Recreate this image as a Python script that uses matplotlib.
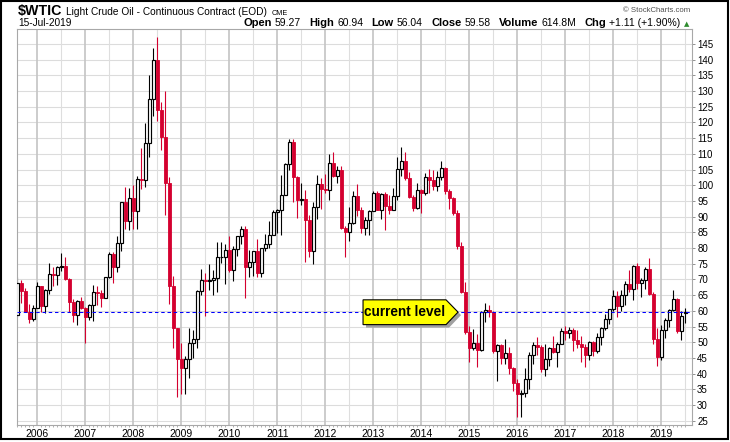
import matplotlib
matplotlib.use('Agg')
import matplotlib.pyplot as plt
import numpy as np
import pandas as pd
from matplotlib.patches import Rectangle, Polygon

plt.rcParams['font.family'] = ['Liberation Sans', 'DejaVu Sans']

# ---------------- data (monthly, Aug 2005 .. Jul 2019) ----------------
start_month = '2005-08'
opens = [
    58.60, 68.94, 66.24, 59.76, 57.32,
    61.04, 67.92, 61.41, 66.63, 71.88, 71.29, 73.93, 74.40, 70.26, 62.91, 58.73, 63.13,
    61.05, 58.14, 61.79, 65.87, 65.71, 64.01, 70.68, 78.21, 74.04, 81.66, 94.53, 88.71,
    95.98, 91.75, 101.84, 101.58, 113.46, 127.35, 140.00, 124.08, 115.46, 100.64, 67.81, 54.43,
    44.60, 41.68, 44.76, 49.66, 51.12, 66.31, 69.89, 69.45, 69.96, 70.61, 77.00, 77.28,
    79.36, 72.89, 79.66, 83.76, 86.15, 73.97, 75.63, 78.95, 71.92, 79.97, 81.43, 84.11,
    91.38, 92.19, 96.97, 106.72, 113.93, 102.70, 95.42, 95.70, 88.81, 79.20, 93.19, 100.36,
    98.83, 98.48, 107.07, 103.02, 104.87, 86.53, 84.96, 88.06, 96.47, 92.19, 86.24, 88.91,
    91.82, 97.49, 92.05, 97.23, 93.46, 91.97, 96.56, 105.03, 107.65, 102.33, 96.38, 92.72,
    98.42, 97.49, 102.59, 101.58, 99.74, 102.71, 105.37, 98.17, 95.96, 91.16, 80.54, 66.15,
    53.27, 48.24, 49.76, 47.60, 59.63, 60.30, 59.47, 47.12, 49.20, 45.09, 46.59, 41.65,
    37.04, 33.62, 33.75, 38.34, 45.92, 49.10, 48.33, 41.60, 44.70, 48.24, 46.86, 49.44,
    53.72, 52.81, 54.01, 50.60, 49.33, 48.32, 46.04, 50.17, 47.23, 51.67, 54.38, 57.40,
    60.42, 64.73, 61.64, 64.94, 68.57, 67.04, 74.15, 68.76, 69.80, 73.25, 65.31, 50.93,
    45.41, 53.79, 57.22, 60.14, 63.91, 53.50, 59.27,
]
highs = [
    70.85, 69.81, 67.30, 62.10, 61.94,
    69.20, 68.00, 67.10, 75.35, 74.00, 74.20, 78.40, 77.05, 70.40, 63.80, 63.60, 64.40,
    61.10, 62.30, 68.10, 67.90, 66.60, 70.70, 78.80, 78.80, 83.90, 94.70, 99.30, 99.00,
    100.10, 103.05, 111.80, 119.93, 135.09, 143.67, 147.27, 126.40, 130.00, 102.60, 71.00, 54.50,
    49.80, 45.50, 54.66, 54.00, 66.65, 73.38, 72.00, 75.00, 72.91, 82.00, 81.99, 81.40,
    83.95, 80.51, 83.90, 87.15, 87.15, 79.37, 79.15, 82.97, 80.07, 84.41, 88.63, 92.06,
    92.58, 103.41, 106.95, 114.83, 114.60, 102.90, 100.62, 98.55, 90.52, 94.65, 103.37, 102.44,
    103.74, 109.95, 110.55, 106.28, 106.00, 86.90, 92.94, 98.29, 100.42, 93.05, 89.90, 91.97,
    98.24, 98.24, 97.65, 97.80, 96.99, 99.08, 108.93, 112.24, 110.74, 104.32, 96.90, 100.75,
    98.94, 104.00, 105.20, 104.99, 104.48, 107.68, 105.90, 98.72, 96.40, 92.00, 82.05, 69.28,
    55.05, 54.24, 52.48, 59.90, 62.58, 61.92, 60.03, 49.50, 49.50, 50.92, 48.36, 42.00,
    38.39, 34.69, 41.90, 46.78, 50.21, 51.67, 49.02, 49.36, 48.38, 51.93, 49.95, 54.51,
    55.24, 54.94, 54.55, 53.76, 52.00, 49.31, 50.43, 50.43, 52.86, 54.91, 59.05, 60.51,
    66.66, 66.30, 66.55, 69.56, 72.90, 74.46, 75.27, 70.41, 73.85, 76.90, 66.10, 54.55,
    55.55, 57.81, 60.73, 66.60, 64.06, 59.93, 60.94,
]
lows = [
    58.00, 62.50, 59.50, 56.10, 56.70,
    60.80, 59.50, 59.30, 65.30, 68.00, 68.30, 72.60, 69.70, 59.50, 56.55, 55.35, 60.50,
    49.90, 57.20, 56.60, 61.90, 61.20, 64.00, 70.30, 69.00, 72.40, 78.90, 86.00, 85.80,
    86.10, 86.10, 98.65, 99.50, 109.00, 122.00, 120.42, 111.30, 90.50, 62.30, 48.30, 32.40,
    33.55, 33.55, 38.50, 45.00, 48.30, 64.90, 58.30, 66.60, 65.10, 65.90, 75.20, 68.60,
    72.40, 69.50, 77.40, 81.30, 64.20, 70.80, 71.10, 70.80, 70.80, 79.10, 80.00, 84.00,
    84.90, 84.10, 96.80, 105.00, 94.60, 89.60, 93.70, 75.70, 77.10, 74.95, 89.20, 92.50,
    97.40, 95.40, 102.70, 100.70, 86.10, 77.30, 82.10, 87.50, 90.30, 84.90, 84.10, 84.10,
    91.80, 92.00, 89.30, 85.60, 91.00, 92.00, 95.40, 103.00, 101.60, 95.80, 91.80, 92.30,
    91.20, 96.90, 97.40, 98.40, 98.20, 101.60, 97.20, 92.50, 90.40, 79.80, 65.70, 52.70,
    43.60, 47.40, 42.00, 47.10, 56.50, 57.90, 46.70, 37.75, 43.20, 43.10, 39.90, 34.50,
    26.20, 26.10, 32.50, 35.20, 43.00, 45.80, 40.60, 39.20, 42.50, 46.40, 42.20, 49.30,
    50.70, 51.20, 47.10, 48.20, 43.80, 42.05, 44.40, 45.60, 46.50, 49.10, 53.90, 55.80,
    59.90, 58.10, 59.90, 61.90, 66.10, 63.60, 67.00, 64.40, 67.00, 64.90, 49.40, 42.40,
    44.35, 51.20, 55.00, 59.90, 53.00, 50.60, 56.04,
]
closes = [
    68.94, 66.24, 59.76, 57.32, 61.04,
    67.92, 61.41, 66.63, 71.88, 71.29, 73.93, 74.40, 70.26, 62.91, 58.73, 63.13, 61.05,
    58.14, 61.79, 65.87, 65.71, 64.01, 70.68, 78.21, 74.04, 81.66, 94.53, 88.71, 95.98,
    91.75, 101.84, 101.58, 113.46, 127.35, 140.00, 124.08, 115.46, 100.64, 67.81, 54.43, 44.60,
    41.68, 44.76, 49.66, 51.12, 66.31, 69.89, 69.45, 69.96, 70.61, 77.00, 77.28, 79.36,
    72.89, 79.66, 83.76, 86.15, 73.97, 75.63, 78.95, 71.92, 79.97, 81.43, 84.11, 91.38,
    92.19, 96.97, 106.72, 113.93, 102.70, 95.42, 95.70, 88.81, 79.20, 93.19, 100.36, 98.83,
    98.48, 107.07, 103.02, 104.87, 86.53, 84.96, 88.06, 96.47, 92.19, 86.24, 88.91, 91.82,
    97.49, 92.05, 97.23, 93.46, 91.97, 96.56, 105.03, 107.65, 102.33, 96.38, 92.72, 98.42,
    97.49, 102.59, 101.58, 99.74, 102.71, 105.37, 98.17, 95.96, 91.16, 80.54, 66.15, 53.27,
    48.24, 49.76, 47.60, 59.63, 60.30, 59.47, 47.12, 49.20, 45.09, 46.59, 41.65, 37.04,
    33.62, 33.75, 38.34, 45.92, 49.10, 48.33, 41.60, 44.70, 48.24, 46.86, 49.44, 53.72,
    52.81, 54.01, 50.60, 49.33, 48.32, 46.04, 50.17, 47.23, 51.67, 54.38, 57.40, 60.42,
    64.73, 61.64, 64.94, 68.57, 67.04, 74.15, 68.76, 69.80, 73.25, 65.31, 50.93, 45.41,
    53.79, 57.22, 60.14, 63.91, 53.50, 58.47, 59.58,
]
year_labels = [str(y) for y in range(2006, 2020)]
price_ticks = list(range(25, 150, 5))
title_symbol = '$WTIC'
title_name = 'Light Crude Oil - Continuous Contract (EOD)'
title_exch = 'CME'
date_label = '15-Jul-2019'
quote_labels = ['Open', 'High', 'Low', 'Close', 'Volume', 'Chg']
quote_values = ['59.27', '60.94', '56.04', '59.58', '614.8M', '+1.11 (+1.90%)']
callout_text = 'current level'
callout_month = '2014-10'

# ---------------- derived ----------------
dates = pd.period_range(start_month, periods=len(closes), freq='M')
base = pd.Period('2006-01', freq='M')
xi = np.array([(d - base).n for d in dates], dtype=float)
o = np.array(opens); h = np.array(highs); l = np.array(lows); c = np.array(closes)
up = c >= o

W, H = 730, 442
fig = plt.figure(figsize=(W / 100, H / 100), dpi=100)
ax = fig.add_axes([17 / W, (H - 425) / H, (692 - 17) / W, (425 - 29) / H])

ax.set_xlim(-5.075, 163.7)
ax.set_ylim(23.62, 149.78)

# grid
for v in price_ticks:
    ax.axhline(v, color='#dcdcdc', lw=0.8, zorder=0)
for yr in range(2006, 2020):
    xj = (pd.Period(f'{yr}-01', freq='M') - base).n
    ax.axvline(xj, color='#c4c4c4', lw=1.2, zorder=0)
    ax.axvline(xj + 6, color='#dedede', lw=0.8, zorder=0)

red = '#d4002f'
wick_col = np.where(up, 'black', red)
ax.vlines(xi, l, h, colors=list(wick_col), lw=0.8, zorder=2)
bottoms = np.minimum(o, c)
heights = np.maximum(np.abs(c - o), 0.25)
ax.bar(xi[up], heights[up], bottom=bottoms[up], width=0.72, color='white',
       edgecolor='black', linewidth=0.85, zorder=3)
ax.bar(xi[~up], heights[~up], bottom=bottoms[~up], width=0.78, color=red,
       edgecolor=red, linewidth=0.6, zorder=3)

# current level line
ax.axhline(c[-1], color='#0000ff', lw=0.75, ls=(0, (3.3, 2.7)), zorder=4)

# axes styling
for s in ax.spines.values():
    s.set_color('#a8a8a8')
    s.set_linewidth(0.8)
ax.yaxis.tick_right()
ax.set_yticks(price_ticks)
ax.set_yticklabels([str(v) for v in price_ticks])
ax.tick_params(axis='y', which='major', length=2.2, width=0.6, color='#808080',
               pad=1.5, labelsize=7, labelcolor='black')
year_pos = [(pd.Period(f'{y}-01', freq='M') - base).n for y in range(2006, 2020)]
ax.set_xticks(year_pos)
ax.set_xticklabels(year_labels)
ax.set_xticks(xi, minor=True)
ax.tick_params(axis='x', which='major', length=0, pad=3.2, labelsize=7.5)
ax.tick_params(axis='x', which='minor', length=1.2, width=0.5, color='#909090')

# callout
fig.canvas.draw()
tip_x = (pd.Period(callout_month, freq='M') - base).n + 0.2
tip = ax.transData.transform((tip_x, c[-1]))
tx, ty = tip
shape = np.array([[-95, 12.3], [-12, 12.3], [0, 0], [-12, -12.5], [-95, -12.5]])
shadow = Polygon(shape + [tx + 3, ty - 3], closed=True, transform=None,
                 facecolor='#a0a0a0', edgecolor='none', zorder=5)
body = Polygon(shape + [tx, ty], closed=True, transform=None,
               facecolor='#ffff00', edgecolor='black', lw=0.8, zorder=6)
fig.artists.append(shadow)
fig.artists.append(body)
shadow.set_figure(fig); body.set_figure(fig)
fig.text((tx - 53) / W, ty / H, callout_text, ha='center', va='center',
         fontsize=9.8, fontweight='bold', color='black', zorder=7)

# header
r = fig.canvas.get_renderer()

def place(x, y, s, **kw):
    t = fig.text(x / W, (H - y) / H, s, va='baseline', ha='left', **kw)
    bb = t.get_window_extent(renderer=r)
    return x + bb.width

x = place(18, 15, title_symbol, fontsize=10.3, fontweight='bold')
x = place(x + 4, 15, title_name, fontsize=7.3)
place(x + 4, 15, title_exch, fontsize=5.2)
place(18, 26.5, date_label, fontsize=7.3)

x = 243
for lab, val in zip(quote_labels, quote_values):
    x = place(x, 26.5, lab, fontsize=8, fontweight='bold')
    x = place(x + 3, 26.5, val, fontsize=7.5)
    x += 8.5
fig.text((x - 5) / W, (H - 26) / H, '\u25b2', fontsize=5, color='#2e8b2e',
         family='DejaVu Sans', va='baseline', ha='left')
fig.text(690 / W, (H - 12) / H, '\u00a9 StockCharts.com', fontsize=5.6,
         color='#505050', ha='right', va='baseline')

# outer border
fig.patches.append(Rectangle((0.5 / W, 3.5 / H), 727 / W, 438 / H, transform=fig.transFigure,
                             fill=False, edgecolor='black', lw=1.5))

fig.savefig('out.png', dpi=100)
